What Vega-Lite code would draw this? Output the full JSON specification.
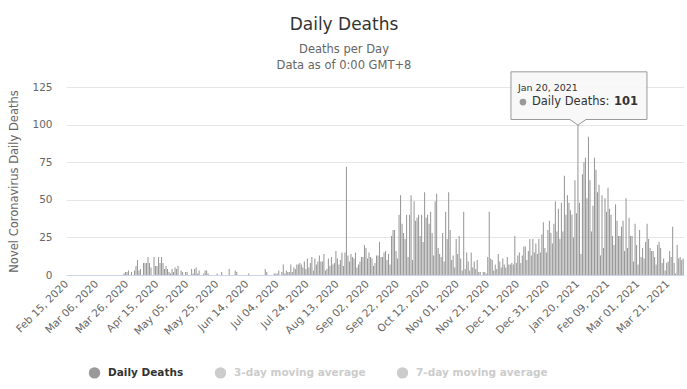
{
"$schema": "https://vega.github.io/schema/vega-lite/v6.json",
"width": 618,
"height": 188,
"autosize": {"type": "none"},
"padding": {"left": 66, "top": 87, "right": 3, "bottom": 114},
"background": "white",
"title": {"text": "Daily Deaths", "subtitle": ["Deaths per Day", "Data as of 0:00 GMT+8"], "anchor": "middle", "dx": -31, "offset": -3, "fontSize": 17, "fontWeight": "normal", "color": "#333333", "subtitleFontSize": 11.5, "subtitleColor": "#666666", "subtitlePadding": 10, "subtitleLineHeight": 16, "font": "DejaVu Sans", "subtitleFont": "DejaVu Sans"},
"config": {"view": {"stroke": null}, "font": "DejaVu Sans"},
"data": {"values": [
{"date":"2020-02-15","deaths":0},{"date":"2020-02-16","deaths":0},{"date":"2020-02-17","deaths":0},{"date":"2020-02-18","deaths":0},{"date":"2020-02-19","deaths":0},{"date":"2020-02-20","deaths":0},{"date":"2020-02-21","deaths":0},{"date":"2020-02-22","deaths":0},{"date":"2020-02-23","deaths":0},{"date":"2020-02-24","deaths":0},{"date":"2020-02-25","deaths":0},{"date":"2020-02-26","deaths":0},{"date":"2020-02-27","deaths":0},{"date":"2020-02-28","deaths":0},{"date":"2020-02-29","deaths":0},
{"date":"2020-03-01","deaths":0},{"date":"2020-03-02","deaths":0},{"date":"2020-03-03","deaths":0},{"date":"2020-03-04","deaths":0},{"date":"2020-03-05","deaths":0},{"date":"2020-03-06","deaths":0},{"date":"2020-03-07","deaths":0},{"date":"2020-03-08","deaths":0},{"date":"2020-03-09","deaths":0},{"date":"2020-03-10","deaths":0},{"date":"2020-03-11","deaths":0},{"date":"2020-03-12","deaths":0},{"date":"2020-03-13","deaths":0},{"date":"2020-03-14","deaths":0},{"date":"2020-03-15","deaths":0},{"date":"2020-03-16","deaths":0},{"date":"2020-03-17","deaths":0},{"date":"2020-03-18","deaths":0},{"date":"2020-03-19","deaths":0},{"date":"2020-03-20","deaths":0},{"date":"2020-03-21","deaths":0},{"date":"2020-03-22","deaths":0},{"date":"2020-03-23","deaths":0},{"date":"2020-03-24","deaths":1},{"date":"2020-03-25","deaths":2},{"date":"2020-03-26","deaths":2},{"date":"2020-03-27","deaths":3},{"date":"2020-03-28","deaths":0},{"date":"2020-03-29","deaths":2},{"date":"2020-03-30","deaths":0},{"date":"2020-03-31","deaths":3},
{"date":"2020-04-01","deaths":6},{"date":"2020-04-02","deaths":10},{"date":"2020-04-03","deaths":3},{"date":"2020-04-04","deaths":4},{"date":"2020-04-05","deaths":0},{"date":"2020-04-06","deaths":8},{"date":"2020-04-07","deaths":8},{"date":"2020-04-08","deaths":8},{"date":"2020-04-09","deaths":12},{"date":"2020-04-10","deaths":8},{"date":"2020-04-11","deaths":5},{"date":"2020-04-12","deaths":0},{"date":"2020-04-13","deaths":12},{"date":"2020-04-14","deaths":6},{"date":"2020-04-15","deaths":6},{"date":"2020-04-16","deaths":12},{"date":"2020-04-17","deaths":8},{"date":"2020-04-18","deaths":12},{"date":"2020-04-19","deaths":8},{"date":"2020-04-20","deaths":4},{"date":"2020-04-21","deaths":6},{"date":"2020-04-22","deaths":4},{"date":"2020-04-23","deaths":2},{"date":"2020-04-24","deaths":1},{"date":"2020-04-25","deaths":4},{"date":"2020-04-26","deaths":2},{"date":"2020-04-27","deaths":5},{"date":"2020-04-28","deaths":4},{"date":"2020-04-29","deaths":6},{"date":"2020-04-30","deaths":0},
{"date":"2020-05-01","deaths":3},{"date":"2020-05-02","deaths":2},{"date":"2020-05-03","deaths":0},{"date":"2020-05-04","deaths":2},{"date":"2020-05-05","deaths":2},{"date":"2020-05-06","deaths":0},{"date":"2020-05-07","deaths":0},{"date":"2020-05-08","deaths":4},{"date":"2020-05-09","deaths":1},{"date":"2020-05-10","deaths":4},{"date":"2020-05-11","deaths":5},{"date":"2020-05-12","deaths":1},{"date":"2020-05-13","deaths":3},{"date":"2020-05-14","deaths":0},{"date":"2020-05-15","deaths":0},{"date":"2020-05-16","deaths":1},{"date":"2020-05-17","deaths":3},{"date":"2020-05-18","deaths":3},{"date":"2020-05-19","deaths":1},{"date":"2020-05-20","deaths":0},{"date":"2020-05-21","deaths":0},{"date":"2020-05-22","deaths":0},{"date":"2020-05-23","deaths":0},{"date":"2020-05-24","deaths":0},{"date":"2020-05-25","deaths":1},{"date":"2020-05-26","deaths":0},{"date":"2020-05-27","deaths":0},{"date":"2020-05-28","deaths":2},{"date":"2020-05-29","deaths":0},{"date":"2020-05-30","deaths":0},{"date":"2020-05-31","deaths":0},
{"date":"2020-06-01","deaths":0},{"date":"2020-06-02","deaths":4},{"date":"2020-06-03","deaths":0},{"date":"2020-06-04","deaths":0},{"date":"2020-06-05","deaths":0},{"date":"2020-06-06","deaths":3},{"date":"2020-06-07","deaths":2},{"date":"2020-06-08","deaths":0},{"date":"2020-06-09","deaths":0},{"date":"2020-06-10","deaths":0},{"date":"2020-06-11","deaths":0},{"date":"2020-06-12","deaths":0},{"date":"2020-06-13","deaths":0},{"date":"2020-06-14","deaths":0},{"date":"2020-06-15","deaths":1},{"date":"2020-06-16","deaths":0},{"date":"2020-06-17","deaths":0},{"date":"2020-06-18","deaths":0},{"date":"2020-06-19","deaths":0},{"date":"2020-06-20","deaths":0},{"date":"2020-06-21","deaths":0},{"date":"2020-06-22","deaths":0},{"date":"2020-06-23","deaths":0},{"date":"2020-06-24","deaths":0},{"date":"2020-06-25","deaths":0},{"date":"2020-06-26","deaths":4},{"date":"2020-06-27","deaths":2},{"date":"2020-06-28","deaths":0},{"date":"2020-06-29","deaths":0},{"date":"2020-06-30","deaths":0},
{"date":"2020-07-01","deaths":0},{"date":"2020-07-02","deaths":1},{"date":"2020-07-03","deaths":1},{"date":"2020-07-04","deaths":1},{"date":"2020-07-05","deaths":3},{"date":"2020-07-06","deaths":0},{"date":"2020-07-07","deaths":2},{"date":"2020-07-08","deaths":7},{"date":"2020-07-09","deaths":1},{"date":"2020-07-10","deaths":3},{"date":"2020-07-11","deaths":2},{"date":"2020-07-12","deaths":2},{"date":"2020-07-13","deaths":7},{"date":"2020-07-14","deaths":2},{"date":"2020-07-15","deaths":5},{"date":"2020-07-16","deaths":4},{"date":"2020-07-17","deaths":7},{"date":"2020-07-18","deaths":7},{"date":"2020-07-19","deaths":8},{"date":"2020-07-20","deaths":7},{"date":"2020-07-21","deaths":5},{"date":"2020-07-22","deaths":9},{"date":"2020-07-23","deaths":4},{"date":"2020-07-24","deaths":11},{"date":"2020-07-25","deaths":5},{"date":"2020-07-26","deaths":8},{"date":"2020-07-27","deaths":12},{"date":"2020-07-28","deaths":3},{"date":"2020-07-29","deaths":11},{"date":"2020-07-30","deaths":7},{"date":"2020-07-31","deaths":9},
{"date":"2020-08-01","deaths":13},{"date":"2020-08-02","deaths":9},{"date":"2020-08-03","deaths":9},{"date":"2020-08-04","deaths":14},{"date":"2020-08-05","deaths":3},{"date":"2020-08-06","deaths":4},{"date":"2020-08-07","deaths":11},{"date":"2020-08-08","deaths":6},{"date":"2020-08-09","deaths":12},{"date":"2020-08-10","deaths":7},{"date":"2020-08-11","deaths":8},{"date":"2020-08-12","deaths":16},{"date":"2020-08-13","deaths":11},{"date":"2020-08-14","deaths":7},{"date":"2020-08-15","deaths":10},{"date":"2020-08-16","deaths":15},{"date":"2020-08-17","deaths":6},{"date":"2020-08-18","deaths":15},{"date":"2020-08-19","deaths":72},{"date":"2020-08-20","deaths":13},{"date":"2020-08-21","deaths":9},{"date":"2020-08-22","deaths":14},{"date":"2020-08-23","deaths":12},{"date":"2020-08-24","deaths":11},{"date":"2020-08-25","deaths":15},{"date":"2020-08-26","deaths":5},{"date":"2020-08-27","deaths":7},{"date":"2020-08-28","deaths":9},{"date":"2020-08-29","deaths":12},{"date":"2020-08-30","deaths":12},{"date":"2020-08-31","deaths":20},
{"date":"2020-09-01","deaths":18},{"date":"2020-09-02","deaths":11},{"date":"2020-09-03","deaths":15},{"date":"2020-09-04","deaths":12},{"date":"2020-09-05","deaths":11},{"date":"2020-09-06","deaths":6},{"date":"2020-09-07","deaths":8},{"date":"2020-09-08","deaths":13},{"date":"2020-09-09","deaths":13},{"date":"2020-09-10","deaths":22},{"date":"2020-09-11","deaths":12},{"date":"2020-09-12","deaths":12},{"date":"2020-09-13","deaths":15},{"date":"2020-09-14","deaths":16},{"date":"2020-09-15","deaths":10},{"date":"2020-09-16","deaths":14},{"date":"2020-09-17","deaths":7},{"date":"2020-09-18","deaths":26},{"date":"2020-09-19","deaths":30},{"date":"2020-09-20","deaths":30},{"date":"2020-09-21","deaths":16},{"date":"2020-09-22","deaths":11},{"date":"2020-09-23","deaths":40},{"date":"2020-09-24","deaths":53},{"date":"2020-09-25","deaths":34},{"date":"2020-09-26","deaths":28},{"date":"2020-09-27","deaths":24},{"date":"2020-09-28","deaths":40},{"date":"2020-09-29","deaths":12},{"date":"2020-09-30","deaths":40},
{"date":"2020-10-01","deaths":53},{"date":"2020-10-02","deaths":10},{"date":"2020-10-03","deaths":49},{"date":"2020-10-04","deaths":36},{"date":"2020-10-05","deaths":38},{"date":"2020-10-06","deaths":40},{"date":"2020-10-07","deaths":26},{"date":"2020-10-08","deaths":40},{"date":"2020-10-09","deaths":22},{"date":"2020-10-10","deaths":55},{"date":"2020-10-11","deaths":38},{"date":"2020-10-12","deaths":40},{"date":"2020-10-13","deaths":34},{"date":"2020-10-14","deaths":42},{"date":"2020-10-15","deaths":28},{"date":"2020-10-16","deaths":13},{"date":"2020-10-17","deaths":49},{"date":"2020-10-18","deaths":54},{"date":"2020-10-19","deaths":18},{"date":"2020-10-20","deaths":14},{"date":"2020-10-21","deaths":12},{"date":"2020-10-22","deaths":28},{"date":"2020-10-23","deaths":9},{"date":"2020-10-24","deaths":42},{"date":"2020-10-25","deaths":24},{"date":"2020-10-26","deaths":55},{"date":"2020-10-27","deaths":30},{"date":"2020-10-28","deaths":10},{"date":"2020-10-29","deaths":13},{"date":"2020-10-30","deaths":5},{"date":"2020-10-31","deaths":24},
{"date":"2020-11-01","deaths":14},{"date":"2020-11-02","deaths":26},{"date":"2020-11-03","deaths":11},{"date":"2020-11-04","deaths":3},{"date":"2020-11-05","deaths":42},{"date":"2020-11-06","deaths":4},{"date":"2020-11-07","deaths":15},{"date":"2020-11-08","deaths":9},{"date":"2020-11-09","deaths":3},{"date":"2020-11-10","deaths":15},{"date":"2020-11-11","deaths":5},{"date":"2020-11-12","deaths":9},{"date":"2020-11-13","deaths":4},{"date":"2020-11-14","deaths":10},{"date":"2020-11-15","deaths":2},{"date":"2020-11-16","deaths":2},{"date":"2020-11-17","deaths":0},{"date":"2020-11-18","deaths":2},{"date":"2020-11-19","deaths":2},{"date":"2020-11-20","deaths":1},{"date":"2020-11-21","deaths":12},{"date":"2020-11-22","deaths":42},{"date":"2020-11-23","deaths":11},{"date":"2020-11-24","deaths":10},{"date":"2020-11-25","deaths":3},{"date":"2020-11-26","deaths":7},{"date":"2020-11-27","deaths":4},{"date":"2020-11-28","deaths":14},{"date":"2020-11-29","deaths":9},{"date":"2020-11-30","deaths":5},
{"date":"2020-12-01","deaths":11},{"date":"2020-12-02","deaths":7},{"date":"2020-12-03","deaths":5},{"date":"2020-12-04","deaths":12},{"date":"2020-12-05","deaths":7},{"date":"2020-12-06","deaths":7},{"date":"2020-12-07","deaths":8},{"date":"2020-12-08","deaths":7},{"date":"2020-12-09","deaths":26},{"date":"2020-12-10","deaths":8},{"date":"2020-12-11","deaths":13},{"date":"2020-12-12","deaths":15},{"date":"2020-12-13","deaths":8},{"date":"2020-12-14","deaths":13},{"date":"2020-12-15","deaths":19},{"date":"2020-12-16","deaths":19},{"date":"2020-12-17","deaths":10},{"date":"2020-12-18","deaths":16},{"date":"2020-12-19","deaths":24},{"date":"2020-12-20","deaths":13},{"date":"2020-12-21","deaths":24},{"date":"2020-12-22","deaths":15},{"date":"2020-12-23","deaths":21},{"date":"2020-12-24","deaths":14},{"date":"2020-12-25","deaths":24},{"date":"2020-12-26","deaths":15},{"date":"2020-12-27","deaths":27},{"date":"2020-12-28","deaths":35},{"date":"2020-12-29","deaths":18},{"date":"2020-12-30","deaths":15},{"date":"2020-12-31","deaths":30},
{"date":"2021-01-01","deaths":36},{"date":"2021-01-02","deaths":28},{"date":"2021-01-03","deaths":21},{"date":"2021-01-04","deaths":34},{"date":"2021-01-05","deaths":49},{"date":"2021-01-06","deaths":29},{"date":"2021-01-07","deaths":44},{"date":"2021-01-08","deaths":24},{"date":"2021-01-09","deaths":48},{"date":"2021-01-10","deaths":29},{"date":"2021-01-11","deaths":66},{"date":"2021-01-12","deaths":40},{"date":"2021-01-13","deaths":53},{"date":"2021-01-14","deaths":48},{"date":"2021-01-15","deaths":43},{"date":"2021-01-16","deaths":40},{"date":"2021-01-17","deaths":25},{"date":"2021-01-18","deaths":63},{"date":"2021-01-19","deaths":41},{"date":"2021-01-20","deaths":101},{"date":"2021-01-21","deaths":48},{"date":"2021-01-22","deaths":14},{"date":"2021-01-23","deaths":67},{"date":"2021-01-24","deaths":75},{"date":"2021-01-25","deaths":78},{"date":"2021-01-26","deaths":51},{"date":"2021-01-27","deaths":92},{"date":"2021-01-28","deaths":63},{"date":"2021-01-29","deaths":29},{"date":"2021-01-30","deaths":46},{"date":"2021-01-31","deaths":78},
{"date":"2021-02-01","deaths":70},{"date":"2021-02-02","deaths":55},{"date":"2021-02-03","deaths":60},{"date":"2021-02-04","deaths":13},{"date":"2021-02-05","deaths":53},{"date":"2021-02-06","deaths":18},{"date":"2021-02-07","deaths":51},{"date":"2021-02-08","deaths":42},{"date":"2021-02-09","deaths":58},{"date":"2021-02-10","deaths":44},{"date":"2021-02-11","deaths":40},{"date":"2021-02-12","deaths":26},{"date":"2021-02-13","deaths":20},{"date":"2021-02-14","deaths":47},{"date":"2021-02-15","deaths":36},{"date":"2021-02-16","deaths":26},{"date":"2021-02-17","deaths":26},{"date":"2021-02-18","deaths":32},{"date":"2021-02-19","deaths":36},{"date":"2021-02-20","deaths":16},{"date":"2021-02-21","deaths":51},{"date":"2021-02-22","deaths":18},{"date":"2021-02-23","deaths":38},{"date":"2021-02-24","deaths":26},{"date":"2021-02-25","deaths":26},{"date":"2021-02-26","deaths":9},{"date":"2021-02-27","deaths":34},{"date":"2021-02-28","deaths":20},
{"date":"2021-03-01","deaths":7},{"date":"2021-03-02","deaths":30},{"date":"2021-03-03","deaths":12},{"date":"2021-03-04","deaths":18},{"date":"2021-03-05","deaths":11},{"date":"2021-03-06","deaths":22},{"date":"2021-03-07","deaths":34},{"date":"2021-03-08","deaths":24},{"date":"2021-03-09","deaths":18},{"date":"2021-03-10","deaths":16},{"date":"2021-03-11","deaths":16},{"date":"2021-03-12","deaths":12},{"date":"2021-03-13","deaths":7},{"date":"2021-03-14","deaths":20},{"date":"2021-03-15","deaths":22},{"date":"2021-03-16","deaths":18},{"date":"2021-03-17","deaths":8},{"date":"2021-03-18","deaths":11},{"date":"2021-03-19","deaths":3},{"date":"2021-03-20","deaths":8},{"date":"2021-03-21","deaths":9},{"date":"2021-03-22","deaths":16},{"date":"2021-03-23","deaths":12},{"date":"2021-03-24","deaths":32},{"date":"2021-03-25","deaths":8},{"date":"2021-03-26","deaths":1},{"date":"2021-03-27","deaths":20},{"date":"2021-03-28","deaths":11},{"date":"2021-03-29","deaths":12},{"date":"2021-03-30","deaths":10},{"date":"2021-03-31","deaths":11}
]},
"encoding": {
  "x": {"field": "date", "type": "ordinal", "sort": null,
    "scale": {"paddingInner": 0.3, "paddingOuter": 0.2},
    "axis": {"values": ["2020-02-15","2020-03-06","2020-03-26","2020-04-15","2020-05-05","2020-05-25","2020-06-14","2020-07-04","2020-07-24","2020-08-13","2020-09-02","2020-09-22","2020-10-12","2020-11-01","2020-11-21","2020-12-11","2020-12-31","2021-01-20","2021-02-09","2021-03-01","2021-03-21"],
      "labelExpr": "utcFormat(toDate(datum.value), '%b %d, %Y')",
      "labelAngle": -45, "labelAlign": "right", "labelBaseline": "middle", "labelFontSize": 10.5, "labelColor": "#666666", "labelPadding": 7, "labelOverlap": false,
      "ticks": false, "tickSize": 0, "domainColor": "#ccd6eb", "grid": false, "title": null}},
  "y": {"field": "deaths", "type": "quantitative",
    "scale": {"domain": [0, 125], "nice": false},
    "axis": {"values": [0, 25, 50, 75, 100, 125], "title": "Novel Coronavirus Daily Deaths", "titleColor": "#666666", "titleFontWeight": "normal", "titleFontSize": 11.5, "titlePadding": 12,
      "labelColor": "#666666", "labelFontSize": 10.5, "labelPadding": 14, "ticks": false, "tickSize": 0, "domain": false, "gridColor": "#e6e6e6"}}
},
"layer": [
  {"mark": {"type": "bar"},
   "encoding": {"color": {"datum": "Daily Deaths", "type": "nominal",
     "scale": {"domain": ["Daily Deaths", "3-day moving average", "7-day moving average"], "range": ["#999999", "#cccccc", "#cccccc"]},
     "legend": {"orient": "none", "legendX": 22, "legendY": 279, "direction": "horizontal", "title": null, "symbolType": "circle", "symbolSize": 130, "labelFontSize": 10.5, "labelFontWeight": "bold", "labelColor": {"expr": "datum.value == 'Daily Deaths' ? '#333333' : '#cccccc'"}, "columnPadding": 30, "labelOffset": 7}}}},
  {"transform": [{"filter": "datum.date == '2021-01-20'"}],
   "mark": {"type": "point", "shape": "M-0.985,-0.754L1.015,-0.754L1.015,-0.053L0.118,-0.053L0,0.03L-0.118,-0.053L-0.985,-0.053Z", "size": 18496, "filled": true, "fill": "#f7f7f7", "fillOpacity": 0.92, "stroke": "#999999", "strokeWidth": 1, "opacity": 1}},
  {"transform": [{"filter": "datum.date == '2021-01-20'"}],
   "mark": {"type": "text", "text": "Jan 20, 2021", "align": "left", "baseline": "middle", "dx": -60, "dy": -35, "fontSize": 9.5, "color": "#333333"}},
  {"transform": [{"filter": "datum.date == '2021-01-20'"}],
   "mark": {"type": "point", "shape": "circle", "filled": true, "size": 45, "color": "#999999", "opacity": 1, "xOffset": -55, "yOffset": -21}},
  {"transform": [{"filter": "datum.date == '2021-01-20'"}],
   "mark": {"type": "text", "text": "Daily Deaths:", "align": "left", "baseline": "middle", "dx": -46, "dy": -21, "fontSize": 11.5, "color": "#333333"}},
  {"transform": [{"filter": "datum.date == '2021-01-20'"}],
   "mark": {"type": "text", "align": "left", "baseline": "middle", "dx": 36, "dy": -21, "fontSize": 11.5, "fontWeight": "bold", "color": "#333333"},
   "encoding": {"text": {"field": "deaths", "type": "quantitative"}}}
]
}
